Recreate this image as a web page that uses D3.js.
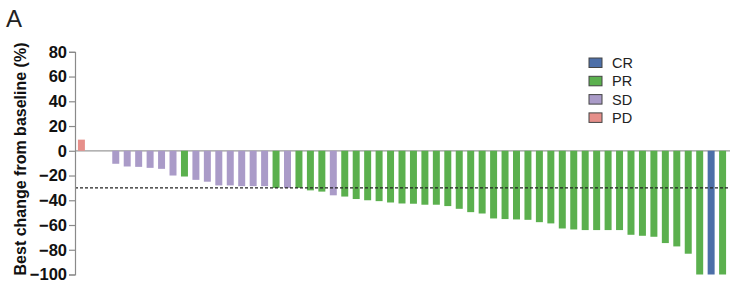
<!DOCTYPE html>
<html>
<head>
<meta charset="utf-8">
<script src="https://cdn.jsdelivr.net/npm/d3@7.9.0/dist/d3.min.js"></script>
<style>
  body { margin: 0; background: #fff; }
  svg { display: block; font-family: "Liberation Sans", Arial, sans-serif; }
</style>
</head>
<body>
<svg width="744" height="305"></svg>
<script>
// best change from baseline (%), one per patient, in plotted order
const values = [9, 0, 0,
  -10.5, -12.7, -13, -13.8, -14.6, -20, -20.8, -23.5, -25, -28, -28, -28.6, -28.6, -28.6,
  -30, -30, -30, -32, -33, -36, -37, -39, -40, -40.7,
  -41.8, -42.6, -42.8, -43.6, -43.6, -44.7, -46.9, -49.6, -50.7, -54.7, -55.2, -55.5, -55.8, -57.7,
  -58.7, -62.8, -63.6, -64.1, -64.1, -64.1, -64.1, -67.9, -68.7, -69.5, -74.6, -77.3, -83.2,
  -100, -100, -100];

const responses = ['PD', 'SD', 'SD',
  'SD', 'SD', 'SD', 'SD', 'SD', 'SD', 'PR', 'SD', 'SD', 'SD', 'SD', 'SD', 'SD', 'SD',
  'PR', 'SD', 'PR', 'PR', 'PR', 'SD', 'PR', 'PR', 'PR', 'PR',
  'PR', 'PR', 'PR', 'PR', 'PR', 'PR', 'PR', 'PR', 'PR', 'PR', 'PR', 'PR', 'PR', 'PR',
  'PR', 'PR', 'PR', 'PR', 'PR', 'PR', 'PR', 'PR', 'PR', 'PR', 'PR', 'PR', 'PR',
  'PR', 'CR', 'PR'];

const categories = ['CR', 'PR', 'SD', 'PD'];
const colorsList = ['#4d6fa8', '#5bb04e', '#aa9bc8', '#e68f8a'];
const yTicks = [80, 60, 40, 20, 0, -20, -40, -60, -80, -100];
const threshold = -30;

const svg = d3.select('svg');

let x = d3.scaleBand()
  .domain(d3.range(values.length))
  .range([75, 729])
  .paddingInner(0.39)
  .paddingOuter(0.255);

let y = d3.scaleLinear().domain([-100, 80]).range([274.5, 51.8]);

let colors = d3.scaleOrdinal().domain(categories).range(colorsList);

// panel letter
svg.append('text')
  .attr('x', 6).attr('y', 27)
  .attr('font-size', 24)
  .attr('fill', '#222')
  .text('A');

// zero baseline
svg.append('line')
  .attr('x1', 75).attr('x2', 730)
  .attr('y1', y(0)).attr('y2', y(0))
  .attr('stroke', '#9a9a9a').attr('stroke-width', 1.2);

// bars
values.forEach((v, i) => {
  svg.append('rect')
    .attr('x', x(i))
    .attr('y', Math.min(y(v), y(0)))
    .attr('width', x.bandwidth())
    .attr('height', Math.abs(y(v) - y(0)))
    .attr('fill', colors(responses[i]));
});

// -30% line
svg.append('line')
  .attr('x1', 75).attr('x2', 730)
  .attr('y1', y(threshold)).attr('y2', y(threshold))
  .attr('stroke', '#222').attr('stroke-width', 1.2)
  .attr('stroke-dasharray', '3,2');

// y axis
let yAxis = svg.append('g')
  .attr('transform', 'translate(75,0)')
  .call(d3.axisLeft(y).tickValues(yTicks).tickSize(6).tickPadding(2));
yAxis.select('.domain').attr('stroke', '#8a8a8a').attr('stroke-width', 1.2);
yAxis.selectAll('.tick line').attr('stroke', '#8a8a8a').attr('stroke-width', 1.2);
yAxis.selectAll('.tick text')
  .attr('font-size', 16.5)
  .attr('font-weight', 'bold')
  .attr('font-family', '"Liberation Sans", Arial, sans-serif')
  .attr('fill', '#111');

svg.append('text')
  .attr('transform', 'translate(26,159) rotate(-90)')
  .attr('text-anchor', 'middle')
  .attr('font-size', 16)
  .attr('font-weight', 'bold')
  .attr('fill', '#111')
  .text('Best change from baseline (%)');

// legend
let legend = svg.append('g').attr('transform', 'translate(589,58)');
categories.forEach((c, i) => {
  legend.append('rect')
    .attr('x', 0).attr('y', i * 18.3)
    .attr('width', 13).attr('height', 9.5)
    .attr('fill', colors(c))
    .attr('stroke', '#444').attr('stroke-width', 1);
  legend.append('text')
    .attr('x', 23).attr('y', i * 18.3 + 10)
    .attr('font-size', 14.5)
    .attr('fill', '#222')
    .text(c);
});
</script>
</body>
</html>
